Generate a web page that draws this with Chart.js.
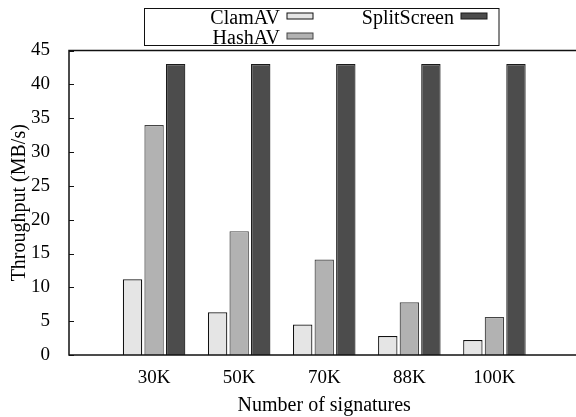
<!DOCTYPE html>
<html>
<head>
<meta charset="utf-8">
<script src="https://cdn.jsdelivr.net/npm/chart.js@4.4.1/dist/chart.umd.min.js"></script>
<style>
	html, body { margin: 0; padding: 0; overflow: hidden; background: #fff; }
	#chart_throughput { display: block; }
</style>
</head>
<body>
<canvas id="chart_throughput" width="584" height="417"></canvas>
<script>
// datos
let categorias = ['30K', '50K', '70K', '88K', '100K'];
let clamav = [11.2, 6.3, 4.5, 2.8, 2.2];
let hashav = [34.0, 18.3, 14.1, 7.8, 5.6];
let splitscreen = [43, 43, 43, 43, 43];
let y_max = 45;
let y_paso = 5;

let fuente = 'Liberation Serif, Times New Roman, serif';

// huecos a cada lado, como el rango del grafico original
let etiquetas = [''].concat(categorias, ['']);
let conHuecos = arr => [null].concat(arr, [null]);

// marco y ticks hacia dentro
let marco = {
	id: 'marco',
	afterDatasetsDraw(chart) {
		let ctx = chart.ctx;
		let a = chart.chartArea;
		ctx.save();
		ctx.strokeStyle = '#111';
		ctx.lineWidth = 1.5;
		ctx.strokeRect(a.left, a.top, a.right - a.left, a.bottom - a.top);
		let y = chart.scales.y;
		ctx.lineWidth = 1;
		y.ticks.forEach(t => {
			let py = Math.round(y.getPixelForValue(t.value)) + 0.5;
			ctx.beginPath();
			ctx.moveTo(a.left, py);
			ctx.lineTo(a.left + 5, py);
			ctx.stroke();
		});
		ctx.restore();
	}
};

// leyenda estilo gnuplot: texto a la derecha, muestra despues
let leyenda = {
	id: 'leyenda',
	afterDraw(chart) {
		let ctx = chart.ctx;
		ctx.save();
		ctx.fillStyle = '#fff';
		ctx.strokeStyle = '#111';
		ctx.lineWidth = 1;
		ctx.fillRect(144.5, 8.5, 354.5, 37);
		ctx.strokeRect(144.5, 8.5, 354.5, 37);
		ctx.font = '20px ' + fuente;
		ctx.textAlign = 'right';
		ctx.textBaseline = 'middle';
		let colX = [280, 454];
		let filaY = [18.5, 38.5];
		chart.data.datasets.forEach((ds, i) => {
			let col = Math.floor(i / 2);
			let fila = i % 2;
			ctx.fillStyle = '#000';
			ctx.fillText(ds.label, colX[col], filaY[fila]);
			ctx.fillStyle = ds.backgroundColor;
			ctx.strokeStyle = ds.borderColor;
			ctx.fillRect(colX[col] + 7, filaY[fila] - 5.5, 26, 6);
			ctx.strokeRect(colX[col] + 7, filaY[fila] - 5.5, 26, 6);
		});
		ctx.restore();
	}
};

let ctx = document.getElementById('chart_throughput');
let data = {
	labels: etiquetas,
	datasets: [
		{
			label: 'ClamAV',
			data: conHuecos(clamav),
			backgroundColor: '#e5e5e5',
			borderColor: '#111',
			borderWidth: 1.2
		},
		{
			label: 'HashAV',
			data: conHuecos(hashav),
			backgroundColor: '#b2b2b2',
			borderColor: '#444',
			borderWidth: 1.2
		},
		{
			label: 'SplitScreen',
			data: conHuecos(splitscreen),
			backgroundColor: '#4c4c4c',
			borderColor: '#1a1a1a',
			borderWidth: 1.2
		}
	]
};

let options = {
	responsive: false,
	devicePixelRatio: 1,
	animation: false,
	layout: {
		padding: { top: 50.5, right: 4.5, left: 0, bottom: 0 }
	},
	categoryPercentage: 0.76,
	barPercentage: 0.9,
	plugins: {
		legend: { display: false },
		tooltip: { enabled: false }
	},
	scales: {
		x: {
			type: 'category',
			offset: false,
			grid: { display: false, offset: false, drawTicks: false },
			border: { display: false },
			ticks: {
				color: '#000',
				padding: 12,
				maxRotation: 0,
				autoSkip: false,
				font: { family: fuente, size: 19 }
			},
			title: {
				display: true,
				text: 'Number of signatures',
				color: '#000',
				padding: { top: 0, bottom: 1 },
				font: { family: fuente, size: 20, lineHeight: 1 }
			},
			afterFit: scale => {
				scale.height = 62;
				scale.paddingLeft = 0;
				scale.paddingRight = 4.5;
			}
		},
		y: {
			min: 0,
			max: y_max,
			grid: { display: false, drawTicks: false },
			border: { display: false },
			ticks: {
				stepSize: y_paso,
				color: '#000',
				padding: 19,
				font: { family: fuente, size: 19 }
			},
			title: {
				display: true,
				text: 'Throughput (MB/s)',
				color: '#000',
				padding: { top: 8, bottom: 0 },
				font: { family: fuente, size: 20 }
			},
			afterFit: scale => { scale.width = 69; }
		}
	}
};

let grafico = new Chart(ctx, {
	type: 'bar',
	data: data,
	options: options,
	plugins: [marco, leyenda]
});
</script>
</body>
</html>
